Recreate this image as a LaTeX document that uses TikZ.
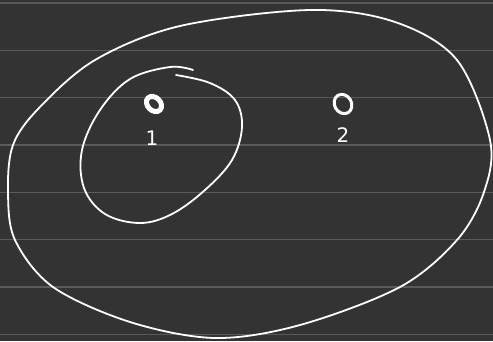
\documentclass[tikz,border=0pt]{standalone}
\usepackage{fontspec}
\setsansfont{DejaVu Sans}
\usetikzlibrary{shapes.geometric}
\definecolor{bg}{HTML}{333333}
\definecolor{rule}{HTML}{5A5A5A}
\tikzset{
  stroke/.style={draw=white, line width=1.8pt, line cap=round, line join=round},
  vert/.style={ellipse, draw=white, line width=5pt, inner sep=0pt, minimum width=13pt, minimum height=17pt},
  lab/.style={text=white, font=\sffamily\fontsize{20}{20}\selectfont, inner sep=0pt}
}
\begin{document}
\begin{tikzpicture}[x=1pt,y=-1pt]
\fill[bg] (0,0) rectangle (493,341);
\useasboundingbox (0,0) rectangle (493,341);
\foreach \yy in {3,50.3,97.6,145,192.3,239.6,287,334.3}
  \draw[rule, line width=1.3pt] (0,\yy) -- (493,\yy);
% outer region
\draw[stroke] plot[smooth cycle, tension=0.55] coordinates {
 (39,108) (95,60) (180,26) (310,10) (395,22) (457,60) (490,140) (484,192)
 (457,240) (400,287) (300,325) (215,338) (130,322) (53,287) (15,240) (8,192) (13,145)};
% inner region
\draw[stroke] plot[smooth, tension=0.6] coordinates {
 (193,70) (170,67) (130,79) (100,110) (82,150) (84,188) (105,214) (140,223)
 (172,214) (205,190) (232,160) (242,127) (235,100) (210,83) (176,75)};
% vertices
\node[vert, rotate=45] (v1) at (154,104) {};
\node[lab] (l1) at (152,138) {1};
\node[vert, line width=3pt, minimum width=17pt, minimum height=20pt, rotate=30] (v2) at (343,104) {};
\node[lab] (l2) at (343,135) {2};
\end{tikzpicture}
\end{document}
